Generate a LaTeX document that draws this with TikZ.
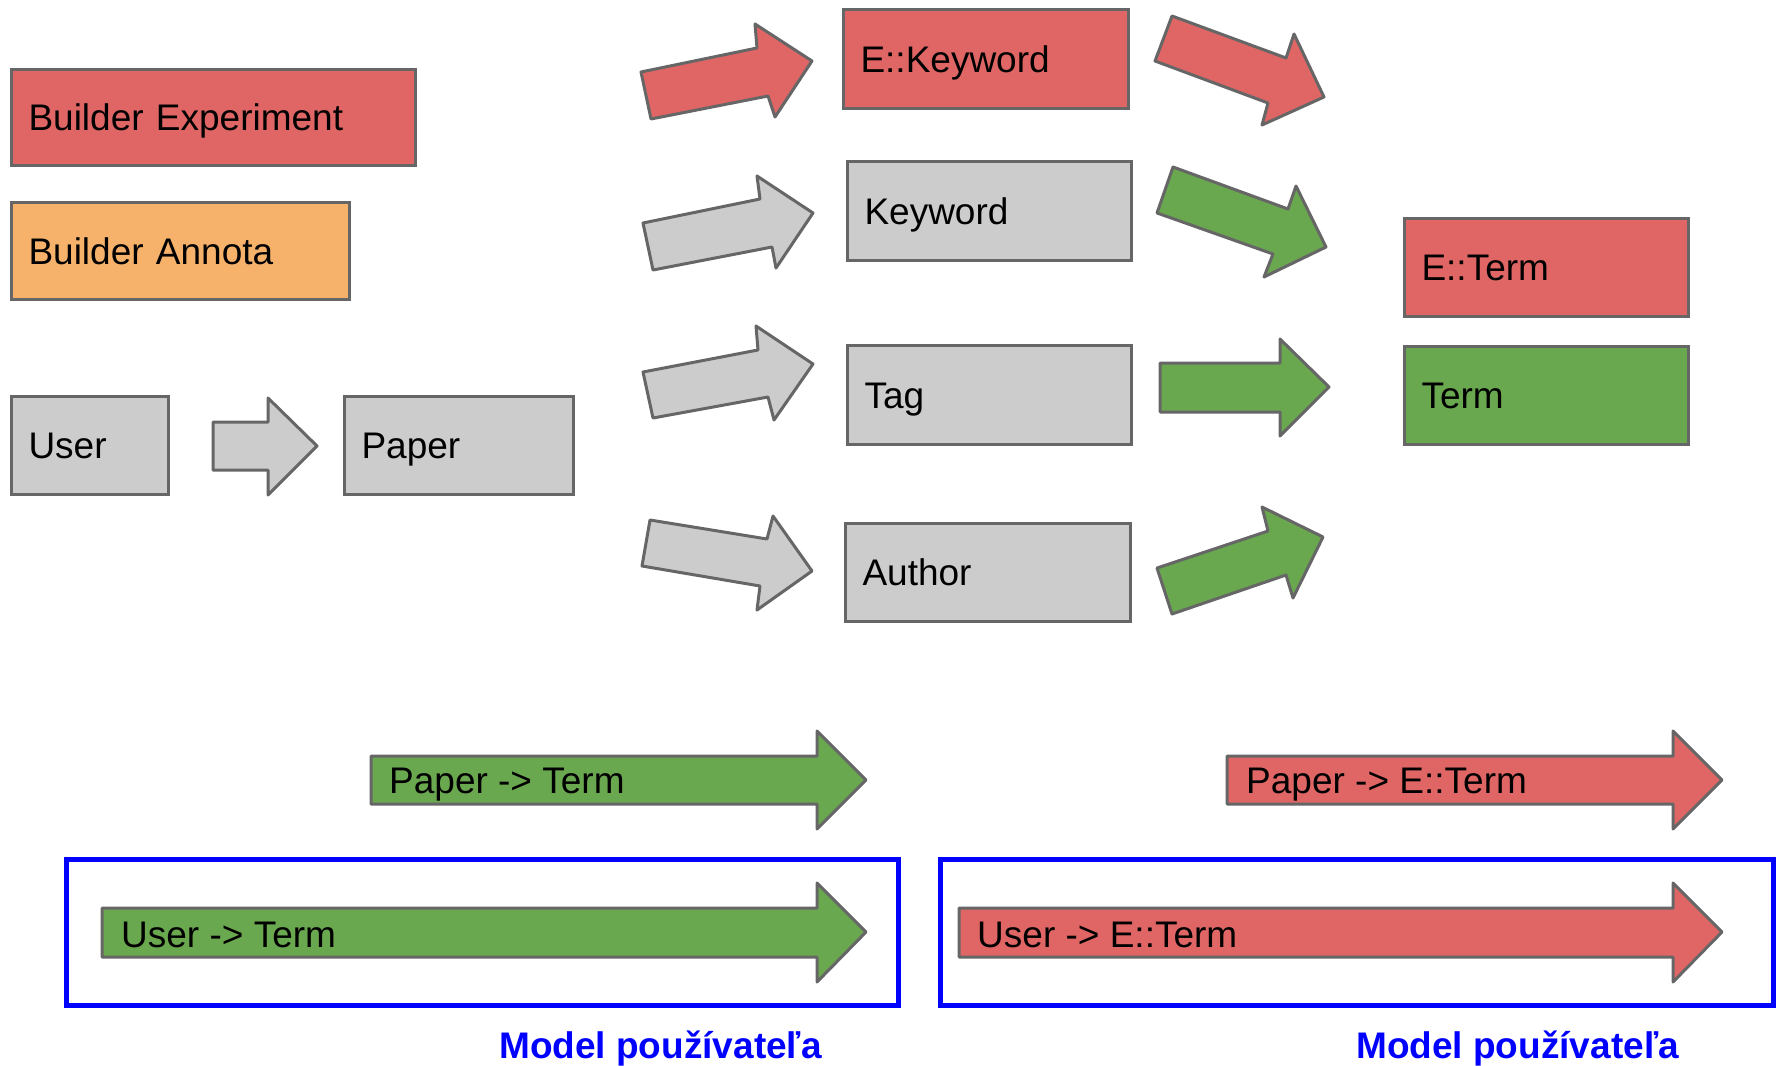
\documentclass[tikz,border=0pt]{standalone}
\usepackage{fontspec}
\setmainfont{Liberation Sans}
\definecolor{cred}{HTML}{E06666}
\definecolor{corange}{HTML}{F6B26B}
\definecolor{cgray}{HTML}{CCCCCC}
\definecolor{cgreen}{HTML}{6AA84F}
\definecolor{cborder}{HTML}{666666}
\definecolor{cblue}{HTML}{0000FF}
\tikzset{
  box/.style={draw=cborder, line width=3pt, anchor=north west, inner xsep=17pt, inner ysep=0pt,
    align=left, text height=26.5pt, text depth=0pt, font=\fontsize{37}{40}\selectfont},
  blk/.style={draw=cborder, line width=3pt, line join=round},
  lbl/.style={anchor=base west, inner sep=0pt, font=\fontsize{37}{40}\selectfont},
  mdl/.style={anchor=base west, inner sep=0pt, text=cblue, font=\fontsize{37}{40}\selectfont\bfseries},
  bluebox/.style={draw=cblue, line width=5pt, anchor=north west, inner sep=0pt},
}
\begin{document}
\begin{tikzpicture}[x=1pt,y=-1pt]
\useasboundingbox (0,0) rectangle (1779,1065);
% boxes
\node[box, fill=cred,    minimum width=404pt, minimum height=96pt, text width=370pt] (be) at (10,68) {Builder Experiment};
\node[box, fill=corange, minimum width=338pt, minimum height=97pt, text width=304pt] (ba) at (10,201) {Builder Annota};
\node[box, fill=cgray,   minimum width=157pt, minimum height=98pt, text width=123pt] (user) at (10,395) {User};
\node[box, fill=cgray,   minimum width=229pt, minimum height=98pt, text width=195pt] (paper) at (343,395) {Paper};
\node[box, fill=cred,    minimum width=285pt, minimum height=99pt, text width=251pt] (ekw) at (842,8) {E::Keyword};
\node[box, fill=cgray,   minimum width=284pt, minimum height=99pt, text width=250pt] (kw) at (846,160) {Keyword};
\node[box, fill=cgray,   minimum width=284pt, minimum height=99pt, text width=250pt] (tag) at (846,344) {Tag};
\node[box, fill=cgray,   minimum width=285pt, minimum height=98pt, text width=251pt] (author) at (844,522) {Author};
\node[box, fill=cred,    minimum width=284pt, minimum height=98pt, text width=250pt] (eterm) at (1403,217) {E::Term};
\node[box, fill=cgreen,  minimum width=284pt, minimum height=98pt, text width=250pt] (term) at (1403,345) {Term};
% block arrows, middle row
\draw[blk, fill=cgray] (213,422) -- (268,422) -- (268,398) -- (317,446) -- (268,495) -- (268,470) -- (213,470) -- cycle;
\draw[blk, fill=cred]  (641,72) -- (757,48) -- (755,24) -- (812,61) -- (775,117) -- (768,96) -- (651,119) -- cycle;
\draw[blk, fill=cgray] (643,223) -- (760,199) -- (757,176) -- (813,213) -- (776,268) -- (772,247) -- (653,270) -- cycle;
\draw[blk, fill=cgray] (643,372) -- (758,350) -- (756,326) -- (813,364) -- (774,420) -- (768,397) -- (653,418) -- cycle;
\draw[blk, fill=cgray] (650,520) -- (767,539) -- (773,516) -- (812,571) -- (757,610) -- (760,586) -- (642,566) -- cycle;
\draw[blk, fill=cred]   (1172,16) -- (1286,58) -- (1294,34) -- (1324,97) -- (1262,125) -- (1268,103) -- (1155,61) -- cycle;
\draw[blk, fill=cgreen] (1173,167) -- (1288,209) -- (1296,186) -- (1326,247) -- (1264,277) -- (1273,254) -- (1157,213) -- cycle;
\draw[blk, fill=cgreen] (1160,363) -- (1280,363) -- (1280,339) -- (1329,387) -- (1280,436) -- (1280,412) -- (1160,412) -- cycle;
\draw[blk, fill=cgreen] (1157,568) -- (1268,531) -- (1262,507) -- (1323,537) -- (1293,598) -- (1286,575) -- (1172,614) -- cycle;
% long arrows
\draw[blk, fill=cgreen] (371,756) -- (817,756) -- (817,731) -- (866,780) -- (817,829) -- (817,804) -- (371,804) -- cycle;
\node[lbl] (lpt) at (389,793) {Paper -> Term};
\draw[blk, fill=cred] (1227,756) -- (1673,756) -- (1673,731) -- (1722,780) -- (1673,829) -- (1673,804) -- (1227,804) -- cycle;
\node[lbl] (lpet) at (1246,793) {Paper -> E::Term};
\node[bluebox, minimum width=832pt, minimum height=146pt] (bl) at (64,857) {};
\node[bluebox, minimum width=833pt, minimum height=146pt] (br) at (938,857) {};
\draw[blk, fill=cgreen] (102,908) -- (817,908) -- (817,883) -- (866,932) -- (817,982) -- (817,957) -- (102,957) -- cycle;
\node[lbl] (lut) at (121,947) {User -> Term};
\draw[blk, fill=cred] (959,908) -- (1673,908) -- (1673,883) -- (1722,932) -- (1673,982) -- (1673,957) -- (959,957) -- cycle;
\node[lbl] (luet) at (977,947) {User -> E::Term};
\node[mdl] (ml) at (499,1058) {Model používateľa};
\node[mdl] (mr) at (1356,1058) {Model používateľa};
\end{tikzpicture}
\end{document}
